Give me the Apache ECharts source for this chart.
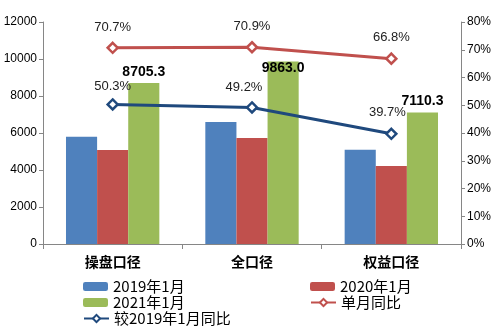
<!DOCTYPE html>
<html>
<head>
<meta charset="utf-8">
<script src="https://cdn.jsdelivr.net/npm/echarts@6/dist/echarts.min.js"></script>
<style>
  html, body { margin: 0; padding: 0; background: #fff; }
  #chart { width: 496px; height: 332px; }
</style>
</head>
<body>
<div id="chart"></div>
<script>
// Categories and series values
const categories = ['操盘口径', '全口径', '权益口径'];
const sales2019 = [5800, 6600, 5100];
const sales2020 = [5080, 5730, 4220];
const sales2021 = [8705.3, 9863.0, 7110.3];
const yoyMonth = [70.7, 70.9, 66.8];      // 单月同比 (%)
const vs2019 = [50.3, 49.2, 39.7];        // 较2019年1月同比 (%)
const leftTicks = { min: 0, max: 12000, interval: 2000 };
const rightTicks = { min: 0, max: 80, interval: 10 };

const FONT = '"Liberation Sans", "Noto Sans CJK SC", sans-serif';
const CJK = '"Noto Sans CJK SC", "Liberation Sans", sans-serif';
const AXIS = '#868686';

const chart = echarts.init(document.getElementById('chart'), null, { renderer: 'canvas' });

const greenData = sales2021.map((v, i) => {
  if (i === 1) {
    return { value: v, label: { position: 'insideTop', distance: 0 } };
  }
  return v;
});

const blueLineData = vs2019.map((v, i) => {
  if (i === 1) return { value: v, label: { offset: [-8, -2] } };
  if (i === 2) return { value: v, label: { offset: [-4, -4] } };
  return v;
});

// one legend entry per slot, laid out in two columns under the plot
function legendItem(name, left, top) {
  return {
    left: left, top: top,
    itemWidth: 25, itemHeight: 9, itemTextGap: 3,
    padding: 0,
    textStyle: { fontFamily: CJK, fontSize: 15, color: '#000' },
    data: [name]
  };
}

chart.setOption({
  animation: false,
  textStyle: { fontFamily: FONT },
  grid: { left: 43, right: 35, top: 22, bottom: 88, containLabel: false },
  legend: [
    legendItem('2019年1月', 83, 279),
    legendItem('2021年1月', 83, 295),
    legendItem('较2019年1月同比', 83, 311),
    legendItem('2020年1月', 310, 279),
    legendItem('单月同比', 310, 295)
  ],
  xAxis: {
    type: 'category',
    data: categories,
    axisLine: { lineStyle: { color: AXIS, width: 1 } },
    axisTick: { show: true, alignWithLabel: false, length: 5, lineStyle: { color: AXIS } },
    axisLabel: { fontFamily: CJK, fontWeight: 'bold', fontSize: 14, color: '#000', margin: 11 }
  },
  yAxis: [
    {
      type: 'value', min: leftTicks.min, max: leftTicks.max, interval: leftTicks.interval,
      splitLine: { show: false },
      axisLine: { show: true, lineStyle: { color: AXIS } },
      axisTick: { show: true, length: 4, lineStyle: { color: AXIS } },
      axisLabel: { fontSize: 12, color: '#000', margin: 6, formatter: v => String(v) }
    },
    {
      type: 'value', min: rightTicks.min, max: rightTicks.max, interval: rightTicks.interval,
      position: 'right',
      splitLine: { show: false },
      axisLine: { show: true, lineStyle: { color: AXIS } },
      axisTick: { show: true, length: 4, lineStyle: { color: AXIS } },
      axisLabel: { fontSize: 12, color: '#000', margin: 6, formatter: '{value}%' }
    }
  ],
  series: [
    {
      name: '2019年1月', type: 'bar', data: sales2019,
      barGap: '0%', barCategoryGap: '33%',
      itemStyle: { color: '#4F81BD' }
    },
    {
      name: '2020年1月', type: 'bar', data: sales2020,
      barGap: '0%', barCategoryGap: '33%',
      itemStyle: { color: '#C0504D' }
    },
    {
      name: '2021年1月', type: 'bar', data: greenData,
      barGap: '0%', barCategoryGap: '33%',
      itemStyle: { color: '#9BBB59' },
      label: {
        show: true, position: 'top', distance: 4,
        fontSize: 14, fontWeight: 'bold', color: '#000',
        formatter: p => Number(p.value).toFixed(1)
      }
    },
    {
      name: '单月同比', type: 'line', yAxisIndex: 1, data: yoyMonth,
      symbol: 'diamond', symbolSize: 10,
      lineStyle: { color: '#C0504D', width: 3 },
      itemStyle: { color: '#fff', borderColor: '#C0504D', borderWidth: 2.5 },
      label: {
        show: true, position: 'top', distance: 8,
        fontSize: 13, color: '#222',
        formatter: p => Number(p.value).toFixed(1) + '%'
      },
      z: 5
    },
    {
      name: '较2019年1月同比', type: 'line', yAxisIndex: 1, data: blueLineData,
      symbol: 'diamond', symbolSize: 10,
      lineStyle: { color: '#1F497D', width: 3 },
      itemStyle: { color: '#fff', borderColor: '#1F497D', borderWidth: 2.5 },
      label: {
        show: true, position: 'top', distance: 5,
        fontSize: 13, color: '#222',
        formatter: p => Number(p.value).toFixed(1) + '%'
      },
      z: 5
    }
  ]
});
</script>
</body>
</html>
